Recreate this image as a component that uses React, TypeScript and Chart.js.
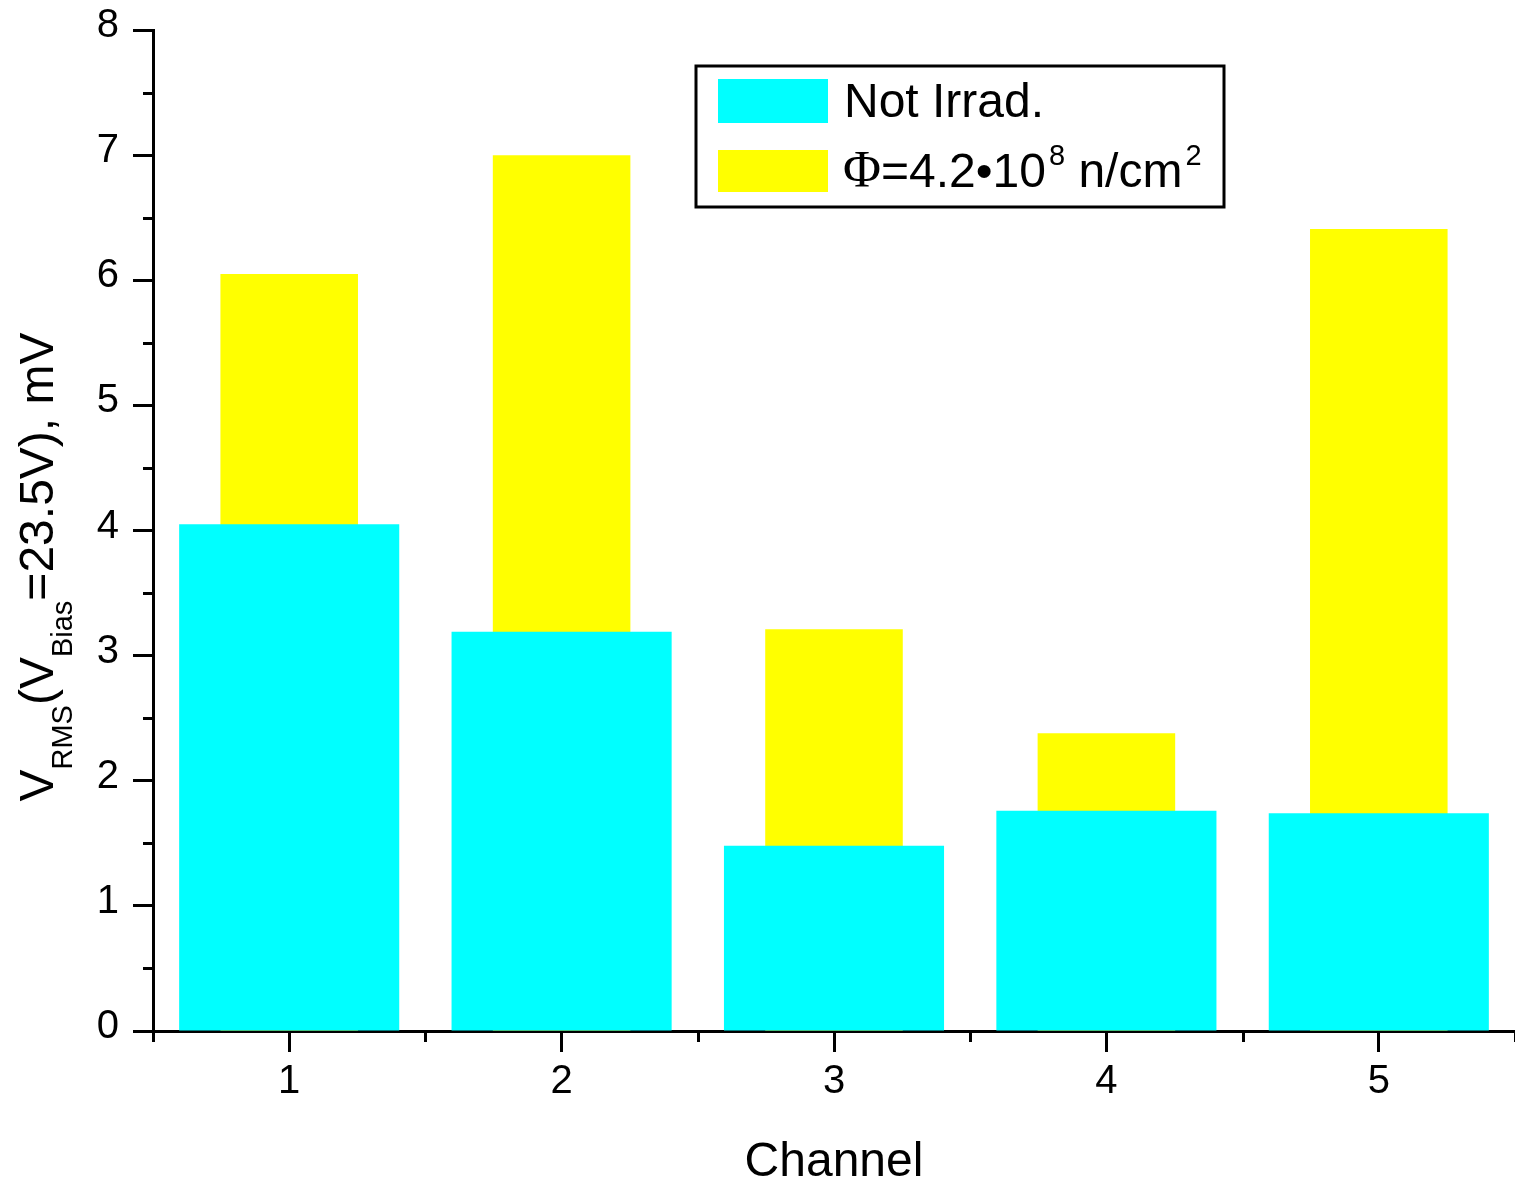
import React, { useEffect, useRef } from "react";
import { Chart, registerables } from "chart.js";

Chart.register(...registerables);

const categories = ["1", "2", "3", "4", "5"];
const notIrradValues = [4.05, 3.19, 1.48, 1.76, 1.74];
const irradValues = [6.05, 7.0, 3.21, 2.38, 6.41];
const yTickMin = 0;
const yTickMax = 8;
const legendLabels = ["Not Irrad.", "Φ=4.2•10^8 n/cm^2"];

const SANS = "'Liberation Sans', Arial, sans-serif";
const SERIF = "'Liberation Serif', 'Times New Roman', serif";

const minorTicksPlugin = {
  id: "minorTicks",
  afterDraw(chart: any) {
    const { ctx, chartArea, scales } = chart;
    const x = scales.x;
    const y = scales.y;
    ctx.save();
    ctx.strokeStyle = "#000";
    ctx.lineWidth = 3;
    for (let v = yTickMin + 0.5; v < yTickMax; v += 1) {
      const py = Math.round(y.getPixelForValue(v)) + 0.5;
      ctx.beginPath();
      ctx.moveTo(chartArea.left - 10, py);
      ctx.lineTo(chartArea.left, py);
      ctx.stroke();
    }
    for (let i = 0; i <= categories.length; i++) {
      const px = Math.round(x.getPixelForValue(i - 0.5)) + 0.5;
      ctx.beginPath();
      ctx.moveTo(px, chartArea.bottom);
      ctx.lineTo(px, chartArea.bottom + 11);
      ctx.stroke();
    }
    ctx.restore();
  },
};

const titlesPlugin = {
  id: "titles",
  afterDraw(chart: any) {
    const { ctx, chartArea } = chart;
    ctx.save();
    ctx.fillStyle = "#000";
    // X title
    ctx.font = `48px ${SANS}`;
    ctx.textAlign = "center";
    ctx.textBaseline = "alphabetic";
    ctx.fillText("Channel", (chartArea.left + chartArea.right) / 2, 1176);

    // Y title with subscripts
    const parts: [string, boolean][] = [
      ["V", false],
      ["RMS", true],
      ["(V", false],
      ["Bias", true],
      ["=23.5V), mV", false],
    ];
    const mainFont = `48px ${SANS}`;
    const subFont = `29px ${SANS}`;
    let total = 0;
    for (const [t, sub] of parts) {
      ctx.font = sub ? subFont : mainFont;
      total += ctx.measureText(t).width;
    }
    ctx.translate(53, 567);
    ctx.rotate(-Math.PI / 2);
    ctx.textAlign = "left";
    let cx = -total / 2;
    for (const [t, sub] of parts) {
      ctx.font = sub ? subFont : mainFont;
      ctx.fillText(t, cx, sub ? 19 : 0);
      cx += ctx.measureText(t).width;
    }
    ctx.restore();
  },
};

const legendPlugin = {
  id: "customLegend",
  afterDraw(chart: any) {
    const { ctx } = chart;
    const ds = chart.data.datasets;
    ctx.save();
    ctx.strokeStyle = "#000";
    ctx.lineWidth = 3;
    ctx.strokeRect(696, 66, 528, 141);
    ctx.fillStyle = ds[0].backgroundColor;
    ctx.fillRect(718, 79, 110, 44);
    ctx.fillStyle = ds[1].backgroundColor;
    ctx.fillRect(718, 150, 110, 42);

    ctx.fillStyle = "#000";
    ctx.textAlign = "left";
    ctx.textBaseline = "alphabetic";
    ctx.font = `48px ${SANS}`;
    ctx.fillText(legendLabels[0], 844, 117);

    // second label with serif Phi and superscripts
    let x = 843;
    const base = 187;
    ctx.font = `52px ${SERIF}`;
    ctx.fillText("Φ", x, base);
    x += ctx.measureText("Φ").width;
    ctx.font = `48px ${SANS}`;
    ctx.fillText("=4.2•10", x, base);
    x += ctx.measureText("=4.2•10").width + 3;
    ctx.font = `29px ${SANS}`;
    ctx.fillText("8", x, 165);
    x += ctx.measureText("8").width;
    ctx.font = `48px ${SANS}`;
    ctx.fillText(" n/cm", x, base);
    x += ctx.measureText(" n/cm").width + 3;
    ctx.font = `29px ${SANS}`;
    ctx.fillText("2", x, 165);
    ctx.restore();
  },
};

export default function App() {
  const canvasRef = useRef<HTMLCanvasElement | null>(null);

  useEffect(() => {
    const canvas = canvasRef.current;
    if (!canvas) return;
    const chart = new Chart(canvas, {
      type: "bar",
      data: {
        labels: categories,
        datasets: [
          {
            label: legendLabels[0],
            data: notIrradValues,
            backgroundColor: "#00FFFF",
            borderWidth: 0,
            barPercentage: 0.808,
            categoryPercentage: 1,
          },
          {
            label: legendLabels[1],
            data: irradValues,
            backgroundColor: "#FFFF00",
            borderWidth: 0,
            barPercentage: 0.505,
            categoryPercentage: 1,
          },
        ],
      },
      options: {
        responsive: false,
        animation: false,
        devicePixelRatio: 1,
        layout: { padding: { left: 0, right: 0, top: 30, bottom: 0 } },
        plugins: {
          legend: { display: false },
          tooltip: { enabled: false },
          title: { display: false },
        },
        scales: {
          x: {
            stacked: true,
            offset: true,
            grid: {
              offset: false,
              drawOnChartArea: false,
              drawTicks: true,
              tickLength: 21,
              tickWidth: 3,
              tickColor: "#000",
              color: "#000",
            },
            border: { display: true, color: "#000", width: 3 },
            ticks: {
              color: "#000",
              font: { size: 40, family: SANS },
              padding: 6,
              maxRotation: 0,
            },
            afterFit(scale: any) {
              scale.height = 160;
              scale.paddingLeft = 0;
              scale.paddingRight = 0;
            },
          },
          y: {
            stacked: false,
            min: yTickMin,
            max: yTickMax,
            grid: {
              drawOnChartArea: false,
              drawTicks: true,
              tickLength: 20,
              tickWidth: 3,
              tickColor: "#000",
              color: "#000",
            },
            border: { display: true, color: "#000", width: 3 },
            ticks: {
              stepSize: 1,
              color: "#000",
              font: { size: 40, family: SANS },
              padding: 14,
              labelOffset: -4,
            },
            afterFit(scale: any) {
              scale.width = 153;
              scale.paddingTop = 0;
              scale.paddingBottom = 0;
            },
          },
        },
      },
      plugins: [minorTicksPlugin, titlesPlugin, legendPlugin],
    } as any);
    return () => chart.destroy();
  }, []);

  return (
    <div style={{ position: "absolute", left: 0, top: 0, width: 1515, height: 1191, background: "#fff" }}>
      <canvas ref={canvasRef} width={1515} height={1191} style={{ display: "block" }} />
    </div>
  );
}
